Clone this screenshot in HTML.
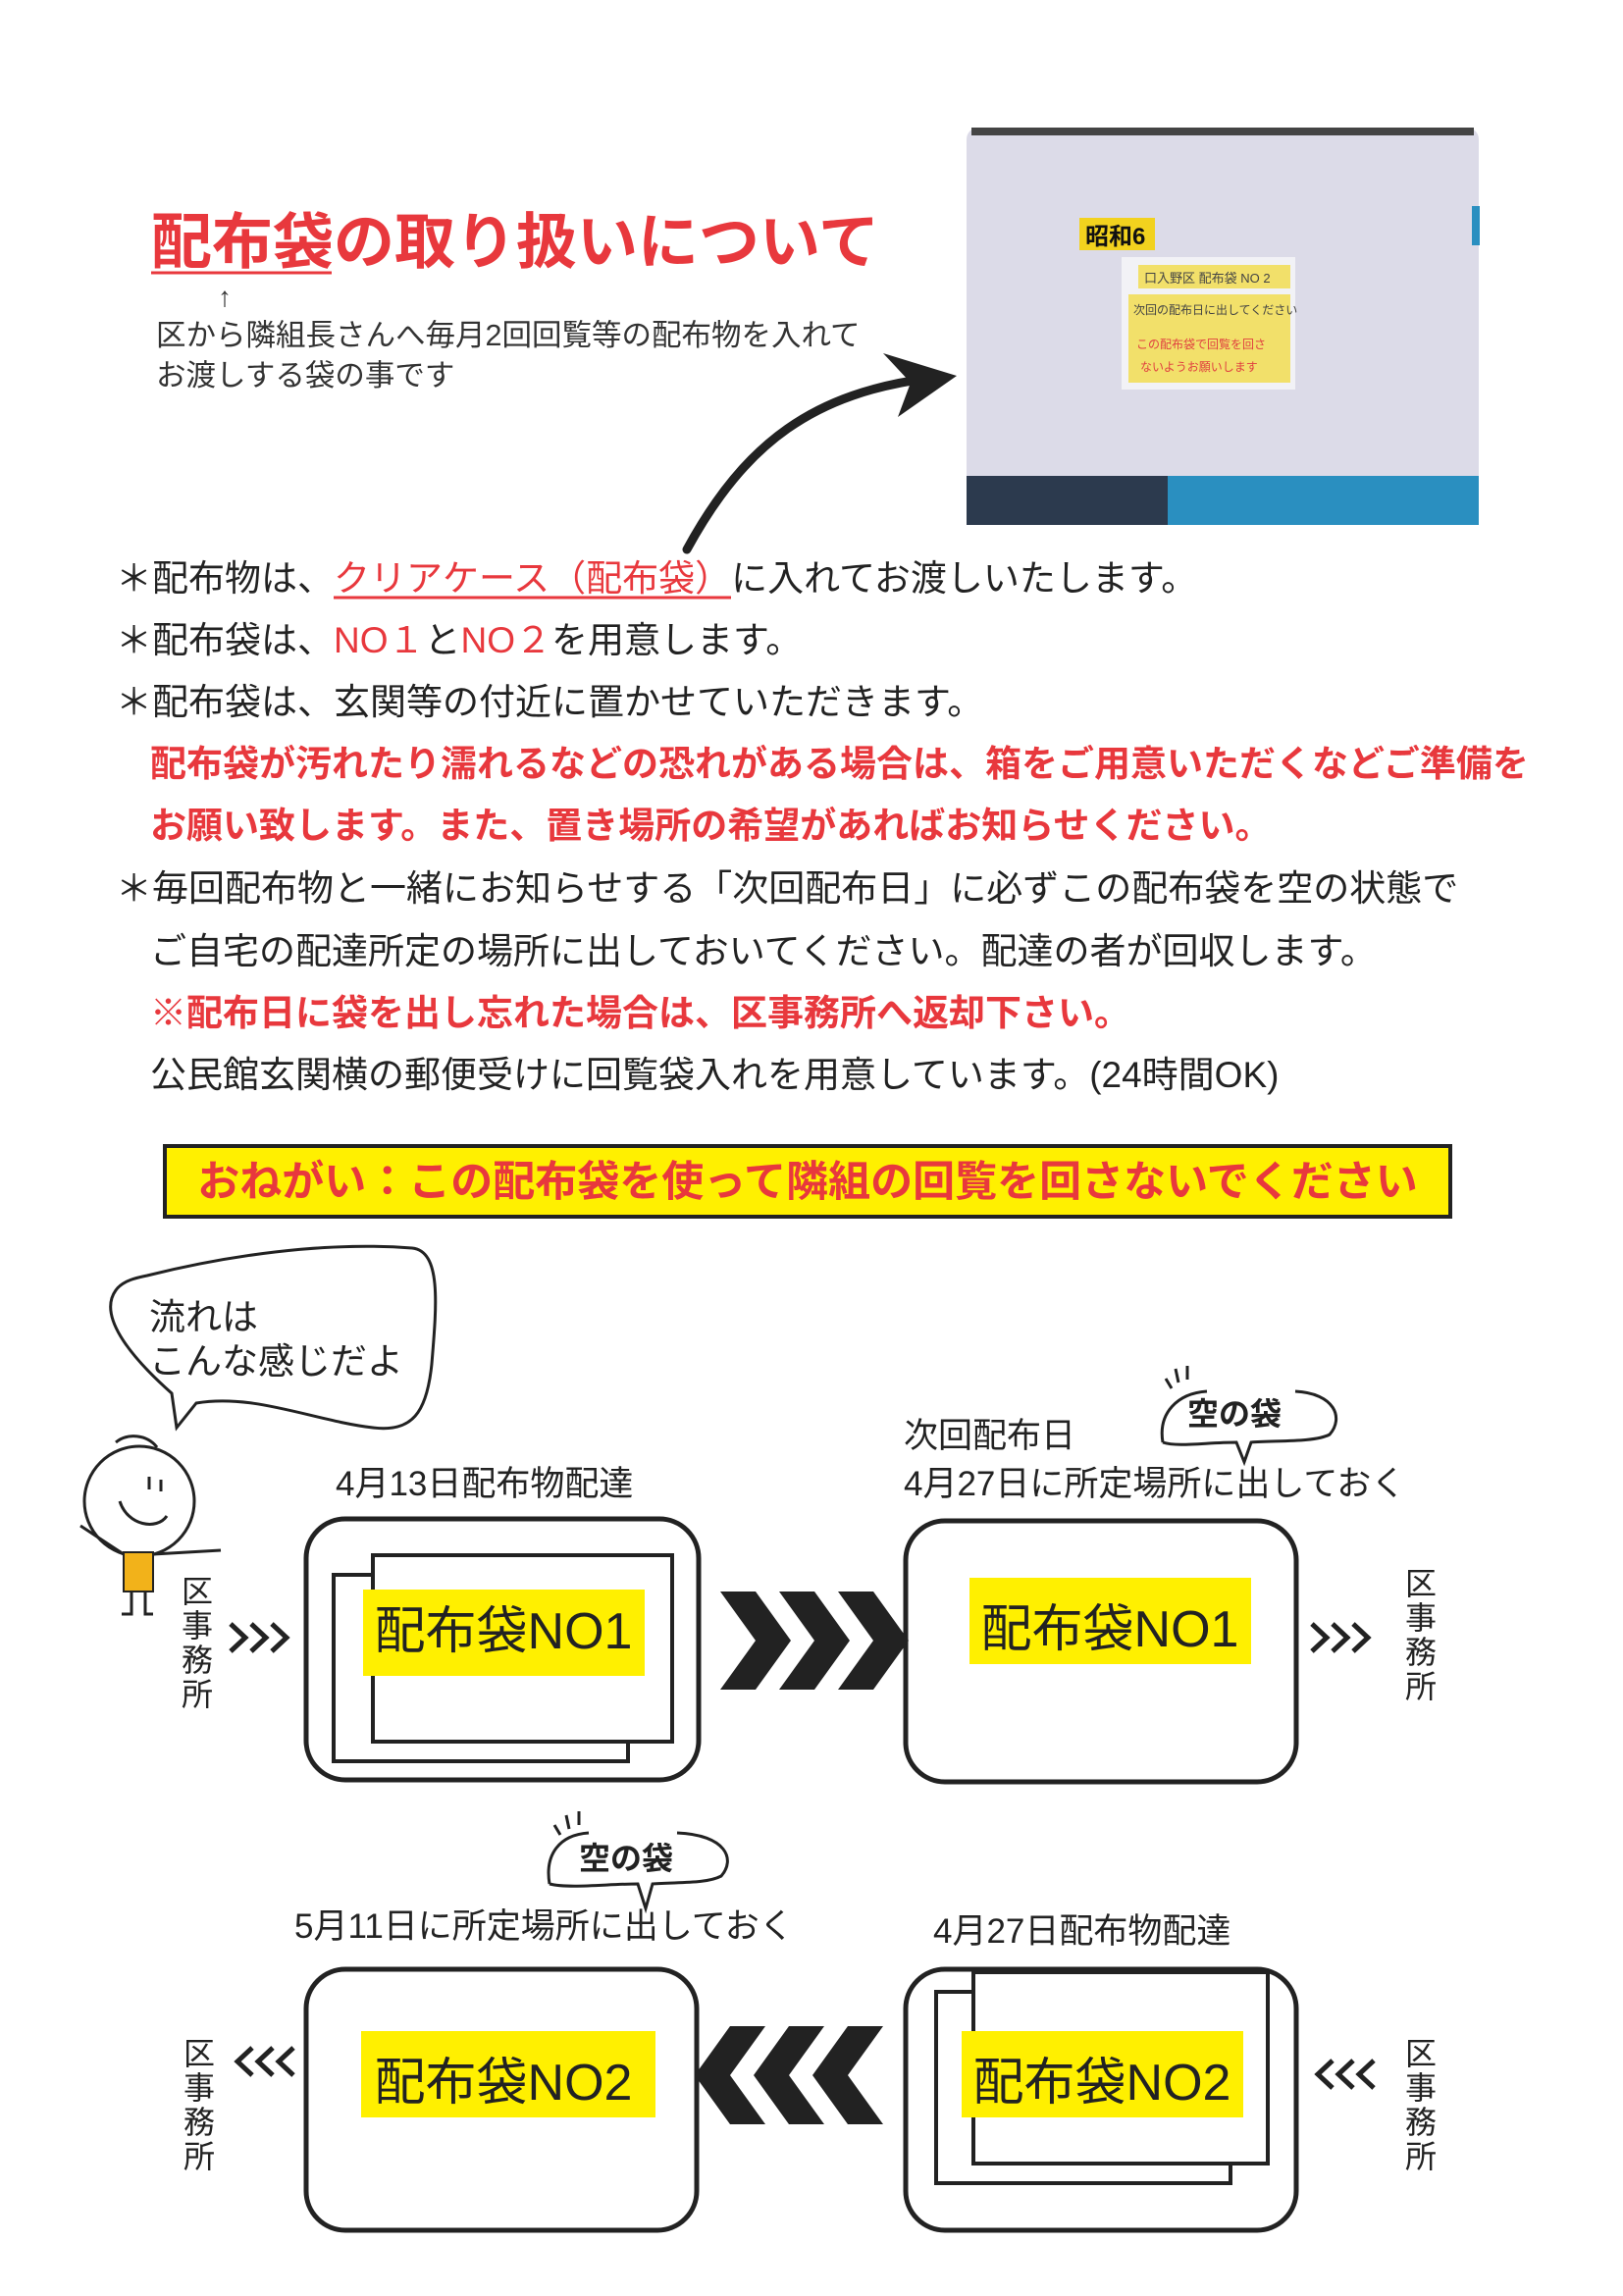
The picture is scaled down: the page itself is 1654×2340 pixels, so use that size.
<!DOCTYPE html>
<html><head><meta charset="utf-8">
<style>
html,body{margin:0;padding:0;background:#fff;}
svg{display:block;}
text{font-family:"Liberation Sans","Noto Sans CJK JP",sans-serif;}
</style></head>
<body>
<svg width="1654" height="2340" viewBox="0 0 1654 2340" xmlns="http://www.w3.org/2000/svg">
<rect width="1654" height="2340" fill="#fff"/>

<!-- Title -->
<text x="154" y="268" font-size="62" font-weight="bold" fill="#e8383d">配布袋の取り扱いについて</text>
<line x1="154" y1="278" x2="338" y2="278" stroke="#e8383d" stroke-width="3"/>
<text x="222" y="312" font-size="28" fill="#333">↑</text>
<text x="159" y="352" font-size="30.5" fill="#333">区から隣組長さんへ毎月2回回覧等の配布物を入れて</text>
<text x="159" y="393" font-size="30.5" fill="#333">お渡しする袋の事です</text>

<!-- Curved arrow -->
<path d="M700 560 C 760 450, 830 400, 950 385" fill="none" stroke="#222" stroke-width="9" stroke-linecap="round"/>
<path d="M900 360 L975 383 L915 425 L928 390 Z" fill="#222"/>

<!-- Bag photo -->
<rect x="985" y="130" width="522" height="405" rx="12" fill="#dcdbe8"/>
<rect x="990" y="130" width="512" height="8" fill="#444"/>
<rect x="985" y="485" width="522" height="50" fill="#2c3a4e"/>
<rect x="1190" y="485" width="317" height="50" fill="#2a8fc0"/>
<rect x="1500" y="210" width="8" height="40" fill="#2a8fc0"/>
<rect x="1100" y="222" width="77" height="33" fill="#f2d21e"/>
<text x="1106" y="249" font-size="24" font-weight="bold" fill="#111">昭和6</text>
<rect x="1143" y="262" width="177" height="135" fill="#f2f2f6"/>
<rect x="1160" y="270" width="155" height="24" fill="#f2e06a"/>
<text x="1166" y="288" font-size="13" fill="#444">口入野区 配布袋 NO 2</text>
<rect x="1150" y="300" width="165" height="90" fill="#f2e06a"/>
<text x="1155" y="320" font-size="12" fill="#444">次回の配布日に出してください</text>
<text x="1158" y="355" font-size="12" fill="#e04040">この配布袋で回覧を回さ</text>
<text x="1162" y="378" font-size="12" fill="#e04040">ないようお願いします</text>

<!-- Bullets -->
<g font-size="37" fill="#222">
<text x="118" y="602">＊配布物は、<tspan fill="#e8383d">クリアケース（配布袋）</tspan>に入れてお渡しいたします。</text>
<line x1="340" y1="609" x2="745" y2="609" stroke="#e8383d" stroke-width="3"/>
<text x="118" y="665">＊配布袋は、<tspan fill="#e8383d">NO１</tspan>と<tspan fill="#e8383d">NO２</tspan>を用意します。</text>
<text x="118" y="728">＊配布袋は、玄関等の付近に置かせていただきます。</text>
<text x="153" y="791" fill="#e8383d" font-weight="bold">配布袋が汚れたり濡れるなどの恐れがある場合は、箱をご用意いただくなどご準備を</text>
<text x="153" y="854" fill="#e8383d" font-weight="bold">お願い致します。また、置き場所の希望があればお知らせください。</text>
<text x="118" y="918">＊毎回配布物と一緒にお知らせする「次回配布日」に必ずこの配布袋を空の状態で</text>
<text x="153" y="982">ご自宅の配達所定の場所に出しておいてください。配達の者が回収します。</text>
<text x="153" y="1045" fill="#e8383d" font-weight="bold">※配布日に袋を出し忘れた場合は、区事務所へ返却下さい。</text>
<text x="153" y="1108">公民館玄関横の郵便受けに回覧袋入れを用意しています。(24時間OK)</text>
</g>

<!-- Yellow notice -->
<rect x="168" y="1168" width="1310" height="72" fill="#fff000" stroke="#222" stroke-width="4"/>
<text x="823" y="1219" font-size="43" font-weight="bold" fill="#e8383d" text-anchor="middle">おねがい：この配布袋を使って隣組の回覧を回さないでください</text>

<!-- Speech bubble -->
<path d="M150 1300 C 230 1280, 330 1265, 420 1272 C 450 1275, 445 1330, 440 1390 C 435 1440, 420 1460, 380 1455 C 320 1448, 260 1420, 200 1430 L 180 1455 L 175 1420 C 130 1380, 100 1340, 118 1315 C 125 1305, 140 1302, 150 1300 Z" fill="#fff" stroke="#222" stroke-width="3"/>
<text x="152" y="1355" font-size="37" fill="#222">流れは</text>
<text x="152" y="1400" font-size="37" fill="#222">こんな感じだよ</text>

<!-- Character -->
<circle cx="142" cy="1530" r="56" fill="#fff" stroke="#222" stroke-width="3"/>
<path d="M118 1470 C 130 1460, 150 1462, 160 1475" fill="none" stroke="#222" stroke-width="3"/>
<line x1="152" y1="1505" x2="152" y2="1518" stroke="#222" stroke-width="3"/>
<line x1="164" y1="1508" x2="164" y2="1520" stroke="#222" stroke-width="3"/>
<path d="M122 1530 C 130 1555, 160 1560, 170 1545" fill="none" stroke="#222" stroke-width="3"/>
<rect x="126" y="1582" width="30" height="40" fill="#f2b21a" stroke="#222" stroke-width="2"/>
<line x1="156" y1="1584" x2="225" y2="1580" stroke="#222" stroke-width="3"/>
<line x1="126" y1="1584" x2="82" y2="1555" stroke="#222" stroke-width="3"/>
<path d="M134 1622 L134 1645 L124 1645 M148 1622 L148 1645 L156 1645" fill="none" stroke="#222" stroke-width="3"/>

<!-- Row 1 -->
<text x="342" y="1524" font-size="35" fill="#222">4月13日配布物配達</text>
<rect x="312" y="1548" width="400" height="266" rx="40" fill="#fff" stroke="#222" stroke-width="5"/>
<rect x="340" y="1605" width="300" height="190" fill="#fff" stroke="#222" stroke-width="4"/>
<rect x="380" y="1585" width="305" height="190" fill="#fff" stroke="#222" stroke-width="4"/>
<rect x="370" y="1620" width="287" height="88" fill="#fff000"/>
<text x="513" y="1680" font-size="52" fill="#222" text-anchor="middle">配布袋NO1</text>

<text x="921" y="1475" font-size="35" fill="#222">次回配布日</text>
<text x="921" y="1524" font-size="35" fill="#222">4月27日に所定場所に出しておく</text>
<path d="M1185 1470 C 1180 1440, 1200 1420, 1230 1418 M1320 1418 C 1360 1420, 1370 1445, 1355 1462 C 1340 1470, 1300 1468, 1275 1470 L1268 1490 L1260 1470 C 1230 1470, 1200 1475, 1185 1470" fill="none" stroke="#222" stroke-width="3"/>
<text x="1210" y="1452" font-size="32" font-weight="bold" fill="#222">空の袋</text>
<path d="M1188 1405 l6 10 M1198 1395 l3 14 M1210 1392 l0 14" stroke="#222" stroke-width="3"/>
<rect x="923" y="1550" width="398" height="266" rx="40" fill="#fff" stroke="#222" stroke-width="5"/>
<rect x="988" y="1608" width="287" height="88" fill="#fff000"/>
<text x="1131" y="1678" font-size="52" fill="#222" text-anchor="middle">配布袋NO1</text>

<!-- Row 1 chevrons -->
<g fill="#222">
<path d="M734 1622 L770 1622 L806 1672 L770 1722 L734 1722 L770 1672 Z"/>
<path d="M794 1622 L830 1622 L866 1672 L830 1722 L794 1722 L830 1672 Z"/>
<path d="M854 1622 L890 1622 L926 1672 L890 1722 L854 1722 L890 1672 Z"/>
</g>
<g fill="none" stroke="#222" stroke-width="5">
<path d="M235 1655 L250 1669 L235 1683 M256 1655 L271 1669 L256 1683 M277 1655 L292 1669 L277 1683"/>
<path d="M1337 1655 L1352 1669 L1337 1683 M1358 1655 L1373 1669 L1358 1683 M1379 1655 L1394 1669 L1379 1683"/>
<path d="M299 2087 L284 2101 L299 2115 M278 2087 L263 2101 L278 2115 M257 2087 L242 2101 L257 2115"/>
<path d="M1400 2100 L1385 2114 L1400 2128 M1379 2100 L1364 2114 L1379 2128 M1358 2100 L1343 2114 L1358 2128"/>
</g>
<g font-size="32" fill="#222" text-anchor="middle">
<text x="201" y="1633">区</text><text x="201" y="1668">事</text><text x="201" y="1703">務</text><text x="201" y="1738">所</text>
<text x="1448" y="1625">区</text><text x="1448" y="1660">事</text><text x="1448" y="1695">務</text><text x="1448" y="1730">所</text>
<text x="203" y="2104">区</text><text x="203" y="2139">事</text><text x="203" y="2174">務</text><text x="203" y="2209">所</text>
<text x="1448" y="2104">区</text><text x="1448" y="2139">事</text><text x="1448" y="2174">務</text><text x="1448" y="2209">所</text>
</g>

<!-- Row 2 -->
<text x="300" y="1975" font-size="35" fill="#222">5月11日に所定場所に出しておく</text>
<path d="M560 1920 C 555 1890, 570 1870, 600 1868 M690 1868 C 740 1870, 750 1895, 735 1912 C 720 1920, 690 1918, 665 1920 L658 1945 L650 1920 C 620 1920, 580 1925, 560 1920" fill="none" stroke="#222" stroke-width="3"/>
<text x="590" y="1905" font-size="32" font-weight="bold" fill="#222">空の袋</text>
<path d="M565 1860 l6 10 M577 1850 l3 14 M590 1846 l0 14" stroke="#222" stroke-width="3"/>
<rect x="312" y="2007" width="398" height="266" rx="40" fill="#fff" stroke="#222" stroke-width="5"/>
<rect x="368" y="2070" width="300" height="88" fill="#fff000"/>
<text x="513" y="2140" font-size="52" fill="#222" text-anchor="middle">配布袋NO2</text>

<text x="951" y="1980" font-size="35" fill="#222">4月27日配布物配達</text>
<rect x="923" y="2007" width="398" height="266" rx="40" fill="#fff" stroke="#222" stroke-width="5"/>
<rect x="954" y="2030" width="300" height="195" fill="#fff" stroke="#222" stroke-width="4"/>
<rect x="992" y="2010" width="300" height="195" fill="#fff" stroke="#222" stroke-width="4"/>
<rect x="980" y="2070" width="287" height="88" fill="#fff000"/>
<text x="1123" y="2140" font-size="52" fill="#222" text-anchor="middle">配布袋NO2</text>

<g fill="#222">
<path d="M900 2065 L864 2065 L828 2115 L864 2165 L900 2165 L864 2115 Z"/>
<path d="M840 2065 L804 2065 L768 2115 L804 2165 L840 2165 L804 2115 Z"/>
<path d="M780 2065 L744 2065 L708 2115 L744 2165 L780 2165 L744 2115 Z"/>
</g>
</svg>
</body></html>
